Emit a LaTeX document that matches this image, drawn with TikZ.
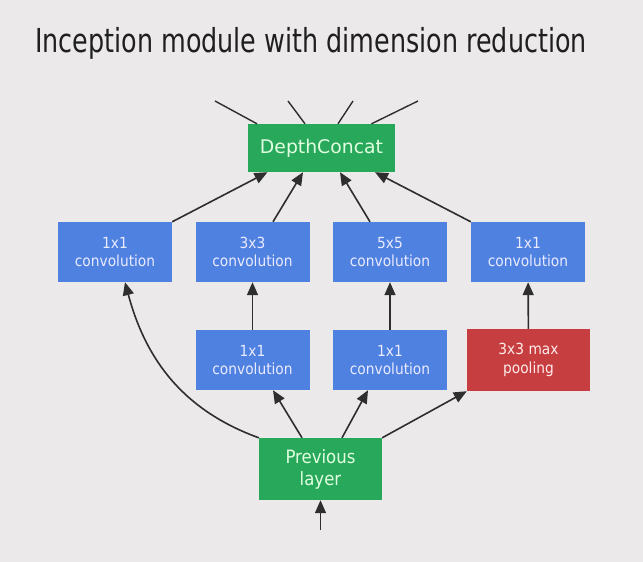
\documentclass[tikz,border=0pt]{standalone}
\usepackage{fontspec}
\setmainfont{DejaVu Sans}
\newfontfamily\titlefont[FakeStretch=0.77]{DejaVu Sans}
\newfontfamily\boxfont[FakeStretch=0.9]{DejaVu Sans}
\usetikzlibrary{arrows.meta}

\definecolor{bgcol}{HTML}{EBE9EA}
\definecolor{gcol}{HTML}{28A85B}
\definecolor{bcol}{HTML}{4F81E1}
\definecolor{rcol}{HTML}{C63E40}
\definecolor{lcol}{HTML}{2E2E2E}

\begin{document}
\begin{tikzpicture}[x=1pt, y=-1pt,
    layerbox/.style={rectangle, inner sep=0pt, align=center, text=white!92!blue,
      minimum width=114pt, minimum height=60pt, fill=bcol,
      font=\boxfont\fontsize{15.3pt}{18.7pt}\selectfont},
    greenbox/.style={layerbox, fill=gcol, text=white!88!green},
    poolbox/.style={layerbox, fill=rcol, text=white!92!red, minimum width=123pt, minimum height=62pt},
    conn/.style={draw=lcol, line width=1.6pt, -{Triangle[length=13pt,width=11pt]}},
    plain/.style={draw=lcol, line width=1.4pt}]
      \fill[bgcol] (0,0) rectangle (643,562);
      \useasboundingbox (0,0) rectangle (643,562);

      % Title
      \node[anchor=base west, inner sep=0pt, font=\titlefont\fontsize{33pt}{36pt}\selectfont, text=black!88]
        (title) at (35,52) {Inception module with dimension reduction};

      % Nodes
      \node[greenbox, minimum width=147pt, minimum height=48pt, font=\fontsize{18.8pt}{22pt}\selectfont]
        (concat) at (321.5,148) {DepthConcat};
      \node[layerbox] (c11) at (115,252) {1x1\\convolution};
      \node[layerbox] (c33) at (252.5,252) {3x3\\convolution};
      \node[layerbox] (c55) at (390,252) {5x5\\convolution};
      \node[layerbox] (c14) at (528,252) {1x1\\convolution};
      \node[layerbox] (r12) at (252.5,360) {1x1\\convolution};
      \node[layerbox] (r13) at (390,360) {1x1\\convolution};
      \node[poolbox] (pool) at (528.5,360) {3x3 max\\pooling};
      \node[greenbox, minimum width=123pt, minimum height=62pt, font=\boxfont\fontsize{18.4pt}{22pt}\selectfont]
        (prev) at (320.5,469) {Previous\\layer};

      % Free ends
      \coordinate (out1) at (215,101);
      \coordinate (out2) at (288,101);
      \coordinate (out3) at (353,101);
      \coordinate (out4) at (418,101);
      \coordinate (in) at (320.5,530);

      % Outgoing lines
      \draw[plain] ([xshift=-64.5pt]concat.north) -- (out1);
      \draw[plain] ([xshift=-16.5pt]concat.north) -- (out2);
      \draw[plain] ([xshift=16.5pt]concat.north) -- (out3);
      \draw[plain] ([xshift=50pt]concat.north) -- (out4);

      % Into DepthConcat
      \draw[conn] (c11.north east) -- ([xshift=-54pt]concat.south);
      \draw[conn] ([xshift=20.5pt]c33.north) -- ([xshift=-18.5pt]concat.south);
      \draw[conn] ([xshift=-20pt]c55.north) -- ([xshift=18.5pt]concat.south);
      \draw[conn] (c14.north west) -- ([xshift=53.5pt]concat.south);

      % Reductions
      \draw[conn] (r12) -- (c33);
      \draw[conn] (r13) -- (c55);
      \draw[conn] (pool) -- (c14);

      % From previous layer
      \draw[conn] (prev.north west) to[out=160, in=-75] ([xshift=10pt]c11.south);
      \draw[conn] ([xshift=-18.5pt]prev.north) -- ([xshift=20.5pt]r12.south);
      \draw[conn] ([xshift=21.5pt]prev.north) -- ([xshift=-22pt]r13.south);
      \draw[conn] (prev.north east) -- (pool.south west);
      \draw[conn] (in) -- (prev);
\end{tikzpicture}
\end{document}
